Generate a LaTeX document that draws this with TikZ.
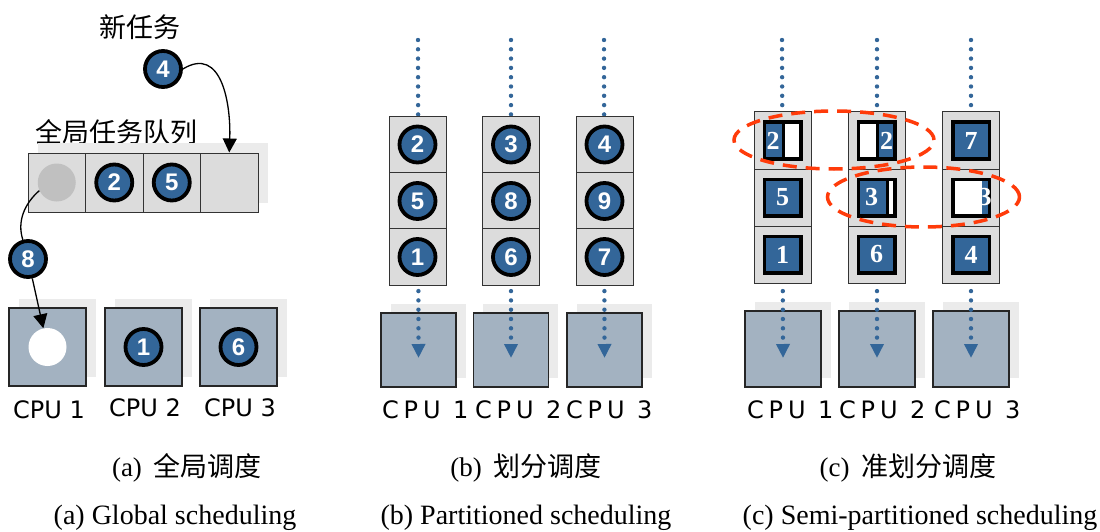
\documentclass[tikz,border=0pt]{standalone}
\usepackage{fontspec}
\setmainfont{Liberation Serif}
\newfontfamily\cjk{Noto Sans CJK SC}
\newfontfamily\dvs{DejaVu Sans}
\newfontfamily\dvsp{DejaVu Sans}[LetterSpace=20]
\newfontfamily\lsans{Liberation Sans}
\usetikzlibrary{arrows.meta}
\definecolor{nblue}{HTML}{336699}
\definecolor{cpuf}{HTML}{A3B2C1}
\definecolor{shad}{HTML}{EBEBEB}
\definecolor{cellf}{HTML}{DCDCDC}
\definecolor{gcirc}{HTML}{C0C0C0}
\definecolor{redd}{HTML}{FF3B0A}
\tikzset{
  numc/.style={circle,fill=nblue,draw=black,line width=3.8pt,minimum size=36pt,inner sep=0pt,text=white,font=\lsans\bfseries\fontsize{24}{24}\selectfont},
  cell/.style={draw=black!80,line width=1pt,fill=cellf,inner sep=0pt},
  shadowbox/.style={fill=shad,inner sep=0pt},
  cpu/.style={draw=black!85,line width=1.2pt,fill=cpuf,inner sep=0pt},
  arr/.style={line width=1.3pt,-{Triangle[length=14pt,width=14pt]}},
  dotarr/.style={nblue,line width=4.4pt,line cap=round,dash pattern=on 0pt off 9.3pt,-{Triangle[length=14pt,width=13pt]}},
  sq/.style={draw=black,line width=3.5pt,fill=nblue,minimum size=36.5pt,inner sep=0pt},
  sqnum/.style={text=white,inner sep=0pt,font=\bfseries\fontsize{26}{26}\selectfont},
  reddash/.style={draw=redd,line width=3.5pt,dash pattern=on 14pt off 9pt},
  cpulab/.style={inner sep=0pt,font=\dvs\fontsize{24}{24}\selectfont},
  cpulabsp/.style={inner sep=0pt,anchor=base west,font=\dvsp\fontsize{24}{24}\selectfont},
  capl/.style={inner sep=0pt,font=\fontsize{27}{27}\selectfont},
  cjklab/.style={inner sep=0pt,font=\cjk\fontsize{27}{27}\selectfont}
}
\begin{document}
\begin{tikzpicture}[x=1pt,y=-1pt]
\useasboundingbox (0,0) rectangle (1100,532);
% ================= panel (a) =================
\node[cjklab] (newtask) at (140,27) {新任务};
\node[cjklab] (gqlab) at (116,132) {全局任务队列};
\node[shadowbox,minimum width=230pt,minimum height=59pt] (qsh) at (152.5,173) {};
\node[cell,minimum width=57.5pt,minimum height=59pt] (q1) at (56.75,182.5) {};
\node[cell,minimum width=57.5pt,minimum height=59pt] (q2) at (114.25,182.5) {};
\node[cell,minimum width=57.5pt,minimum height=59pt] (q3) at (171.75,182.5) {};
\node[cell,minimum width=57.5pt,minimum height=59pt] (q4) at (229.25,182.5) {};
\node[circle,fill=gcirc,minimum size=38pt,inner sep=0pt] (g) at (q1) {};
\node[numc] (c2) at (q2) {2};
\node[numc] (c5) at (q3) {5};
\node[numc] (c4) at (163,69) {4};
\draw[arr] (c4.east) .. controls (222,45) and (231,105) .. (q4.north);
% CPUs (a)
\node[shadowbox,minimum width=77pt,minimum height=78pt] at (57,337.5) {};
\node[shadowbox,minimum width=77pt,minimum height=78pt] at (153,337.5) {};
\node[shadowbox,minimum width=77pt,minimum height=78pt] at (248,337.5) {};
\node[cpu,minimum width=77pt,minimum height=78pt] (a1) at (47.5,347) {};
\node[cpu,minimum width=77pt,minimum height=78pt] (a2) at (143.5,347) {};
\node[cpu,minimum width=77pt,minimum height=78pt] (a3) at (238.5,347) {};
\node[circle,fill=white,minimum size=38pt,inner sep=0pt] (w1) at (a1) {};
\node[numc] (c1) at (a2) {1};
\node[numc] (c6) at (a3) {6};
\node[numc] (c8) at (28,259) {8};
\draw[line width=1.3pt] (g.205) .. controls (24,204) and (17,222) .. (c8.105);
\draw[arr] (c8) -- (w1);
\node[cpulab,anchor=base] (la1) at (49,418) {CPU 1};
\node[cpulab,anchor=base] (la2) at (145,416) {CPU 2};
\node[cpulab,anchor=base] (la3) at (240,416) {CPU 3};
% ================= panel (b) =================
\foreach \i/\x in {1/418.5,2/511,3/604.5}{
  \node[shadowbox,minimum width=75pt,minimum height=74pt] at (\x+9.5,340.5) {};
  \node[cpu,minimum width=75pt,minimum height=74pt] (b\i) at (\x,350) {};
}
\coordinate (tb1) at (418,40);
\coordinate (tb2) at (511,40);
\coordinate (tb3) at (604,40);
\draw[dotarr,shorten >=-8pt] (tb1) -- (b1.center);
\draw[dotarr,shorten >=-8pt] (tb2) -- (b2.center);
\draw[dotarr,shorten >=-8pt] (tb3) -- (b3.center);
\foreach \col/\x/\na/\nb/\nc in {1/417.5/2/5/1,2/511/3/8/6,3/604.5/4/9/7}{
  \node[cell,minimum width=57pt,minimum height=56.5pt] (bs\col1) at (\x,144.5) {};
  \node[cell,minimum width=57pt,minimum height=56.5pt] (bs\col2) at (\x,201) {};
  \node[cell,minimum width=57pt,minimum height=56.5pt] (bs\col3) at (\x,257) {};
  \node[numc] (bn\col1) at (bs\col1) {\na};
  \node[numc] (bn\col2) at (bs\col2) {\nb};
  \node[numc] (bn\col3) at (bs\col3) {\nc};
}
\node[cpulabsp] (lb1) at (382,418) {CPU 1};
\node[cpulabsp] (lb2) at (475,418) {CPU 2};
\node[cpulabsp] (lb3) at (566,418) {CPU 3};
% ================= panel (c) =================
\foreach \i/\x in {1/783,2/877,3/971}{
  \node[shadowbox,minimum width=76pt,minimum height=76pt] at (\x+9.5,339.5) {};
  \node[cpu,minimum width=76pt,minimum height=76pt] (k\i) at (\x,349) {};
}
\coordinate (tc1) at (782,40);
\coordinate (tc2) at (877,40);
\coordinate (tc3) at (971,40);
\draw[dotarr,shorten >=-9pt] (tc1) -- (k1.center);
\draw[dotarr,shorten >=-9pt] (tc2) -- (k2.center);
\draw[dotarr,shorten >=-9pt] (tc3) -- (k3.center);
\foreach \col/\x in {1/782.5,2/876.5,3/971}{
  \node[cell,minimum width=57pt,minimum height=57pt] (cs\col1) at (\x,140.5) {};
  \node[cell,minimum width=57pt,minimum height=57pt] (cs\col2) at (\x,197.5) {};
  \node[cell,minimum width=57pt,minimum height=57pt] (cs\col3) at (\x,254.5) {};
}
% full squares
\node[sq] (sq12) at (cs12) {}; \node[sqnum] at (sq12) {5};
\node[sq] (sq13) at (cs13) {}; \node[sqnum] at (sq13) {1};
\node[sq] (sq23) at (cs23) {}; \node[sqnum] at (sq23) {6};
\node[sq] (sq31) at (cs31) {}; \node[sqnum] at (sq31) {7};
\node[sq] (sq33) at (cs33) {}; \node[sqnum] at (sq33) {4};
% split square: col1 row1 (blue left)
\fill[white] (764.25,122.25) rectangle (800.75,158.75);
\fill[nblue] (764.25,122.25) rectangle (783,158.75);
\draw[line width=3pt] (783.5,122.25) -- (783.5,158.75);
\node[sq,fill=none] (sq11) at (cs11) {};
\node[sqnum] at (773,140.5) {2};
% split square: col2 row1 (blue right)
\fill[white] (858.25,122.25) rectangle (894.75,158.75);
\fill[nblue] (877,122.25) rectangle (894.75,158.75);
\draw[line width=3pt] (877,122.25) -- (877,158.75);
\node[sq,fill=none] (sq21) at (cs21) {};
\node[sqnum] at (886.5,140.5) {2};
% split square: col2 row2 (mostly blue)
\fill[white] (858.25,179.25) rectangle (894.75,215.75);
\fill[nblue] (858.25,179.25) rectangle (886,215.75);
\draw[line width=3pt] (887,179.25) -- (887,215.75);
\node[sq,fill=none] (sq22) at (cs22) {};
\node[sqnum] at (871.5,197.5) {3};
% split square: col3 row2 (mostly white)
\fill[white] (952.75,179.25) rectangle (989.25,215.75);
\fill[nblue] (982,179.25) rectangle (989.25,215.75);
\node[sq,fill=none] (sq32) at (cs32) {};
\node[sqnum] at (985,197.5) {3};
% ellipses
\draw[reddash] (834,140) ellipse [x radius=100pt, y radius=29pt];
\draw[reddash] (923.5,197) ellipse [x radius=96pt, y radius=30pt];
\node[cpulabsp] (lc1) at (747,418) {CPU 1};
\node[cpulabsp] (lc2) at (839,418) {CPU 2};
\node[cpulabsp] (lc3) at (934,418) {CPU 3};
% ================= captions =================
\node[capl] (ca1) at (187,468) {(a)\hspace{12pt}{\cjk 全局调度}};
\node[capl] (cb1) at (526,468) {(b)\hspace{12pt}{\cjk 划分调度}};
\node[capl] (cc1) at (908,468) {(c)\hspace{12pt}{\cjk 准划分调度}};
\node[capl,font=\fontsize{28}{28}\selectfont] (ca2) at (175,518) {(a) Global scheduling};
\node[capl,font=\fontsize{28}{28}\selectfont] (cb2) at (526,518) {(b) Partitioned scheduling};
\node[capl,font=\fontsize{28}{28}\selectfont] (cc2) at (920,518) {(c) Semi-partitioned scheduling};
\end{tikzpicture}
\end{document}
